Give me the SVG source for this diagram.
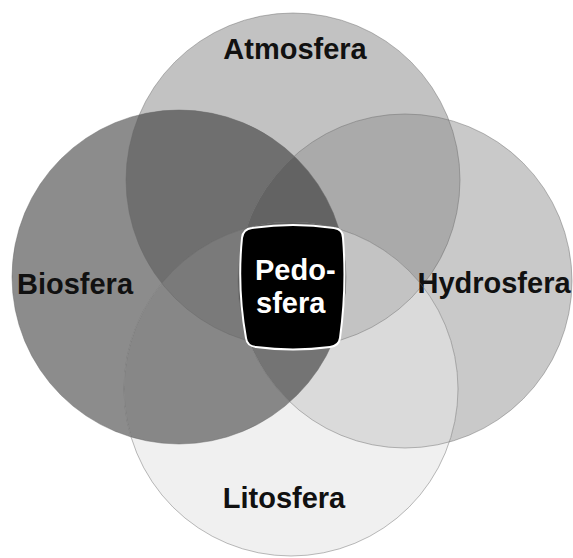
<svg xmlns="http://www.w3.org/2000/svg" width="573" height="558" viewBox="0 0 573 558">
<defs>
<clipPath id="cA"><circle cx="293" cy="180" r="167"/></clipPath>
<clipPath id="cB"><circle cx="179" cy="277" r="167"/></clipPath>
<clipPath id="cH"><circle cx="405" cy="281" r="167"/></clipPath>
<clipPath id="cL"><circle cx="291" cy="389" r="167"/></clipPath>
</defs>
<style>
.lbl{font-family:"Liberation Sans",Arial,sans-serif;font-weight:bold;font-size:29px;fill:#111;text-anchor:middle}
.ped{font-family:"Liberation Sans",Arial,sans-serif;font-weight:bold;font-size:29px;fill:#fff}
.edge{fill:none;stroke:#666;stroke-opacity:0.45;stroke-width:1}
</style>
<rect width="573" height="558" fill="#fff"/>
<g id="fills">
<circle cx="293" cy="180" r="167" fill="#c2c2c2"/>
<circle cx="179" cy="277" r="167" fill="#8c8c8c"/>
<circle cx="405" cy="281" r="167" fill="#c9c9c9"/>
<circle cx="291" cy="389" r="167" fill="#f0f0f0"/>
<circle cx="293" cy="180" r="167" fill="#6f6f6f" clip-path="url(#cB)"/>
<circle cx="293" cy="180" r="167" fill="#aaaaaa" clip-path="url(#cH)"/>
<circle cx="179" cy="277" r="167" fill="#878787" clip-path="url(#cL)"/>
<circle cx="405" cy="281" r="167" fill="#dadada" clip-path="url(#cL)"/>
<g clip-path="url(#cB)"><circle cx="293" cy="180" r="167" fill="#636363" clip-path="url(#cH)"/></g>
<g clip-path="url(#cB)"><circle cx="293" cy="180" r="167" fill="#7a7a7a" clip-path="url(#cL)"/></g>
<g clip-path="url(#cH)"><circle cx="293" cy="180" r="167" fill="#c3c3c3" clip-path="url(#cL)"/></g>
<g clip-path="url(#cB)"><circle cx="405" cy="281" r="167" fill="#747474" clip-path="url(#cL)"/></g>
<g clip-path="url(#cB)"><g clip-path="url(#cH)"><circle cx="293" cy="180" r="167" fill="#5e5e5e" clip-path="url(#cL)"/></g></g>
</g>
<g id="atmosfera">
<circle class="edge" cx="293" cy="180" r="167"/>
<text class="lbl" x="295" y="59">Atmosfera</text>
</g>
<g id="biosfera">
<circle class="edge" cx="179" cy="277" r="167"/>
<text class="lbl" x="75" y="294">Biosfera</text>
</g>
<g id="hydrosfera">
<circle class="edge" cx="405" cy="281" r="167"/>
<text class="lbl" x="494" y="293">Hydrosfera</text>
</g>
<g id="litosfera">
<circle class="edge" cx="291" cy="389" r="167"/>
<text class="lbl" x="284" y="508">Litosfera</text>
</g>
<g id="pedosfera">
<path d="M252,228 Q293,222 334,228 Q343,229 343,238 Q347,288 340,338 Q339,346 330,347 Q293,352 256,347 Q247,346 246,338 Q237,288 242,238 Q243,229 252,228 Z" fill="#000" stroke="#fff" stroke-width="2"/>
<text class="ped" x="255" y="280">Pedo-</text>
<text class="ped" x="256" y="313">sfera</text>
</g>
</svg>
